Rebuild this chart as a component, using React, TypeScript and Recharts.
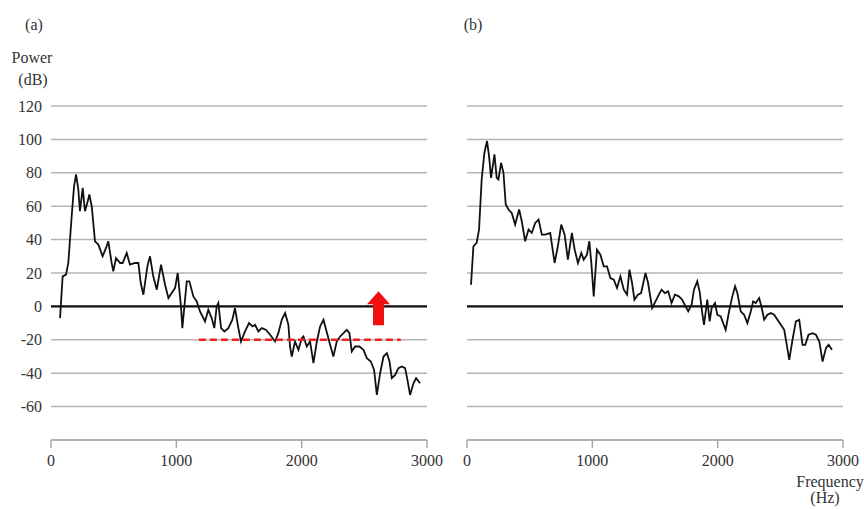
import {
    LineChart,
    Line,
    XAxis,
    YAxis,
    CartesianGrid,
    ReferenceLine,
    ReferenceDot,
} from "recharts";

// (a) spectrum
const freqA = [
    72, 93, 120, 138, 165, 184, 200, 218, 231, 253, 271, 290, 306, 325, 351, 378, 412, 439, 457, 484,
    497, 519, 551, 572, 604, 630, 670, 697, 716, 737, 769, 790, 816, 844, 878, 910, 937, 963, 990, 1011,
    1037, 1048, 1083, 1104, 1136, 1163, 1189, 1229, 1255, 1282, 1303, 1322, 1335, 1357, 1383, 1415, 1447, 1468, 1495, 1516,
    1548, 1580, 1607, 1628, 1655, 1681, 1714, 1748, 1788, 1814, 1841, 1868, 1894, 1907, 1921, 1947, 1974, 2001, 2014, 2041,
    2067, 2094, 2121, 2147, 2174, 2195, 2227, 2253, 2280, 2307, 2334, 2360, 2381, 2400, 2426, 2461, 2493, 2520, 2552, 2578,
    2600, 2626, 2653, 2680, 2701, 2719, 2746, 2772, 2799, 2825, 2844, 2865, 2892, 2913, 2945,
];
const powerA = [
    -7, 18, 19, 26, 54, 72, 79, 70, 57, 71, 57, 62, 67, 60, 39, 37, 30, 35, 39, 26,
    21, 29, 26, 26, 32, 25, 26, 26, 14, 7, 24, 30, 18, 10, 25, 13, 5, 8, 11, 20,
    0, -13, 15, 15, 6, 3, -3, -9, -2, -7, -13, 0, 2, -13, -15, -13, -8, -1, -13, -21,
    -15, -10, -12, -11, -15, -13, -14, -17, -21, -16, -8, -4, -11, -24, -30, -21, -26, -19, -18, -24,
    -21, -34, -21, -12, -8, -14, -23, -30, -21, -18, -16, -14, -16, -27, -24, -24, -26, -31, -33, -38,
    -53, -40, -30, -28, -33, -43, -41, -37, -36, -37, -44, -53, -46, -43, -46,
];

// (b) spectrum
const freqB = [
    32, 51, 77, 96, 117, 139, 160, 176, 192, 219, 237, 251, 272, 291, 309, 331, 357, 384, 416, 437,
    464, 491, 517, 544, 571, 597, 624, 664, 699, 725, 752, 779, 805, 837, 859, 885, 912, 931, 957, 976,
    992, 1011, 1037, 1064, 1091, 1117, 1144, 1171, 1197, 1224, 1251, 1277, 1296, 1317, 1336, 1363, 1389, 1424, 1445, 1477,
    1504, 1531, 1552, 1579, 1605, 1632, 1659, 1690, 1717, 1744, 1765, 1792, 1811, 1837, 1856, 1877, 1891, 1917, 1936, 1952,
    1979, 1997, 2024, 2064, 2091, 2117, 2139, 2157, 2184, 2211, 2237, 2264, 2283, 2304, 2331, 2352, 2371, 2397, 2424, 2451,
    2477, 2504, 2531, 2549, 2571, 2597, 2624, 2651, 2677, 2699, 2725, 2757, 2784, 2811, 2837, 2864, 2885, 2912,
];
const powerB = [
    13, 36, 38, 46, 76, 92, 99, 90, 77, 91, 77, 76, 86, 80, 61, 58, 56, 49, 58, 51,
    39, 46, 44, 50, 52, 43, 43, 44, 26, 36, 49, 43, 28, 44, 34, 26, 32, 28, 31, 39,
    26, 6, 34, 31, 24, 24, 17, 16, 11, 18, 10, 7, 22, 14, 4, 7, 8, 20, 14, -1,
    3, 7, 10, 8, 9, 2, 7, 6, 4, 0, -3, 1, 10, 15, 9, -4, -11, 4, -9, -1,
    2, -5, -6, -14, -3, 6, 12, 8, -3, -5, -10, -3, 3, 2, 5, -1, -8, -5, -4, -5,
    -8, -11, -14, -22, -32, -20, -9, -8, -23, -23, -17, -16, -17, -21, -33, -25, -23, -26,
];

const xTicks = [0, 1000, 2000, 3000];
const yTicks = [-60, -40, -20, 0, 20, 40, 60, 80, 100, 120];

const dataA = freqA.map((f, i) => ({ freq: f, power: powerA[i] }));
const dataB = freqB.map((f, i) => ({ freq: f, power: powerB[i] }));

const font = "Liberation Serif, DejaVu Serif, serif";
const tickStyle = { fontFamily: font, fontSize: 16, fill: "#333" };

const Arrow = (props: any) => {
    const { cx, cy } = props;
    const pts = [
        [0, 0], [11.5, 13], [5.5, 13], [5.5, 34], [-5.5, 34], [-5.5, 13], [-11.5, 13],
    ].map(([dx, dy]) => `${cx + dx},${cy + dy}`).join(" ");
    return <polygon points={pts} fill="#f01010" />;
};

const Note = ({ x, y, children }: { x: number; y: number; children: any }) => (
    <div
        style={{
            position: "absolute",
            left: x,
            top: y,
            transform: "translate(-50%, -50%)",
            fontFamily: font,
            fontSize: 16,
            color: "#333",
            whiteSpace: "nowrap",
            lineHeight: 1,
        }}
    >
        {children}
    </div>
);

const Panel = ({ data, showY, children }: { data: any[]; showY: boolean; children?: any }) => (
    <LineChart
        width={showY ? 460 : 424}
        height={509}
        data={data}
        style={{ fontFamily: font }}
        margin={showY
            ? { top: 106, right: 33, left: 0, bottom: 39 }
            : { top: 106, right: 21, left: 27, bottom: 39 }}
    >
        <CartesianGrid vertical={false} stroke="#b4b4b4" strokeWidth={1.5} />
        <XAxis
            dataKey="freq"
            type="number"
            domain={[0, 3000]}
            ticks={xTicks}
            interval={0}
            height={30}
            tickSize={8}
            tickMargin={7}
            tick={tickStyle}
            axisLine={{ stroke: "#a8a8a8", strokeWidth: 1.5 }}
            tickLine={{ stroke: "#a8a8a8", strokeWidth: 1.5 }}
        />
        <YAxis
            type="number"
            domain={[-80, 120]}
            ticks={yTicks}
            interval={0}
            width={51}
            hide={!showY}
            tickSize={0}
            tickMargin={9}
            tick={tickStyle}
            axisLine={false}
            tickLine={false}
        />
        <ReferenceLine y={0} stroke="#111" strokeWidth={2.2} />
        <Line
            type="linear"
            dataKey="power"
            stroke="#111"
            strokeWidth={1.8}
            dot={false}
            isAnimationActive={false}
        />
        {children}
    </LineChart>
);

export default function App() {
    return (
        <div style={{ position: "absolute", left: 0, top: 0, width: 864, height: 509, background: "#fff", overflow: "hidden" }}>
            <div style={{ position: "absolute", left: 0, top: 0 }}>
                <Panel data={dataA} showY>
                    <ReferenceLine
                        segment={[{ x: 1180, y: -20 }, { x: 2790, y: -20 }]}
                        stroke="#f02020"
                        strokeWidth={2.5}
                        strokeDasharray="7 4"
                    />
                    <ReferenceDot x={2613} y={9} r={1} shape={Arrow} />
                </Panel>
            </div>
            <div style={{ position: "absolute", left: 440, top: 0 }}>
                <Panel data={dataB} showY={false} />
            </div>
            <Note x={34} y={25}>(a)</Note>
            <Note x={32} y={58}>Power</Note>
            <Note x={33} y={80}>(dB)</Note>
            <Note x={473} y={25}>(b)</Note>
            <Note x={830} y={482}>Frequency</Note>
            <Note x={825} y={498}>(Hz)</Note>
        </div>
    );
}
